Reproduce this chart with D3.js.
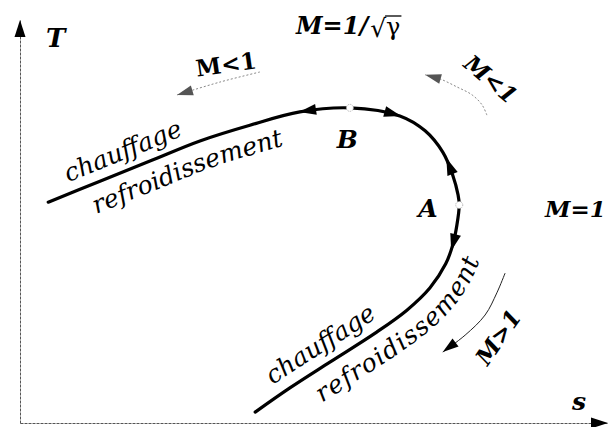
<!DOCTYPE html>
<html>
<head>
<meta charset="utf-8">
<script src="https://cdn.jsdelivr.net/npm/d3@7"></script>
<style>
  body { margin: 0; background: #fff; }
  svg { display: block; }
</style>
</head>
<body>
<div id="chart"></div>
<script>
const FRAME_WIDTH = 614;
const FRAME_HEIGHT = 427;

// Rayleigh line, T against s (arbitrary units)
const CURVE_S = [0.48, 1.36, 2.21, 3.06, 3.91, 4.76, 5.61, 6.46, 6.89, 7.19, 7.36, 7.45, 7.47, 7.43, 7.36, 7.24, 6.97, 6.58, 6.04, 5.27, 4.59, 4.0];
const CURVE_T = [5.48, 6.0, 6.5, 7.0, 7.39, 7.72, 7.82, 7.62, 7.25, 6.72, 6.15, 5.66, 5.41, 4.91, 4.42, 3.95, 3.35, 2.8, 2.23, 1.51, 0.87, 0.27];

// the two marked points on the curve
const POINT_NAMES = ["B", "A"];
const POINT_S = [5.61, 7.47];
const POINT_T = [7.82, 5.41];

// black arrowheads on the curve (+1 = along the drawing direction, -1 = back)
const ARROW_S = [4.88, 6.36, 7.5, 7.48];
const ARROW_T = [7.77, 7.72, 6.5, 4.42];
const ARROW_DIR = [-1, 1, -1, 1];

// thin Mach arrows next to the curve
const SUB_LEFT_S = [4.08, 3.4, 2.67];
const SUB_LEFT_T = [8.71, 8.46, 8.14];
const SUB_RIGHT_S = [7.94, 7.86, 7.69, 7.43, 7.14, 6.89];
const SUB_RIGHT_T = [7.64, 7.89, 8.14, 8.34, 8.54, 8.64];
const SUP_S = [8.25, 8.11, 7.91, 7.57, 7.19];
const SUP_T = [3.72, 3.23, 2.68, 2.18, 1.76];

const X_SCALE = d3.scaleLinear().domain([0, 10]).range([20, 608]);
const Y_SCALE = d3.scaleLinear().domain([0, 10]).range([423, 20]);

const SERIF = "'DejaVu Serif', 'Liberation Serif', serif";

const FRAME = d3
  .select("#chart")
  .append("svg")
  .attr("width", FRAME_WIDTH)
  .attr("height", FRAME_HEIGHT);

// arrowhead with its tip at (x, y), pointing at angle a
function arrowHead(g, x, y, a, len, half, fill) {
  const cx = Math.cos(a), cy = Math.sin(a);
  const bx = x - len * cx, by = y - len * cy;
  g.append("path")
    .attr("d", `M${x},${y}L${bx - half * cy},${by + half * cx}L${bx + half * cy},${by - half * cx}Z`)
    .attr("fill", fill);
}

function boldLabel(x, y, txt, size) {
  return FRAME.append("text")
    .attr("x", x).attr("y", y)
    .style("font-family", SERIF).style("font-weight", "bold").style("font-style", "italic")
    .style("font-size", size + "px")
    .text(txt);
}

// axes: no ticks, only the lines
const xAxis = FRAME.append("g")
  .attr("transform", `translate(0,${Y_SCALE(0)})`)
  .call(d3.axisBottom(X_SCALE).tickValues([]).tickSizeOuter(0));
const yAxis = FRAME.append("g")
  .attr("transform", `translate(${X_SCALE(0)},0)`)
  .call(d3.axisLeft(Y_SCALE).tickValues([]).tickSizeOuter(0));
[xAxis, yAxis].forEach((ax) =>
  ax.select(".domain").attr("stroke", "#555").attr("stroke-width", 1).attr("stroke-dasharray", "3,1")
);
arrowHead(FRAME, X_SCALE(10), Y_SCALE(0), 0, 17, 5.5, "#000");
arrowHead(FRAME, X_SCALE(0), Y_SCALE(10), -Math.PI / 2, 17, 5.5, "#000");

boldLabel(46, 47, "T", 26);
boldLabel(572, 410, "s", 25);

// main curve
const curveLine = d3
  .line()
  .x((i) => X_SCALE(CURVE_S[i]))
  .y((i) => Y_SCALE(CURVE_T[i]))
  .curve(d3.curveCatmullRom.alpha(0.5));

const curve = FRAME.append("path")
  .attr("d", curveLine(d3.range(CURVE_S.length)))
  .attr("fill", "none")
  .attr("stroke", "#000")
  .attr("stroke-width", 3.2)
  .attr("stroke-linecap", "round");

const NODE = curve.node();
const TOTAL = NODE.getTotalLength();

function nearestLength(px, py) {
  let best = 0, bestD = Infinity;
  for (let L = 0; L <= TOTAL; L += 0.5) {
    const p = NODE.getPointAtLength(L);
    const d = (p.x - px) ** 2 + (p.y - py) ** 2;
    if (d < bestD) { bestD = d; best = L; }
  }
  return best;
}

function tangentAt(L) {
  const p0 = NODE.getPointAtLength(Math.max(0, L - 1.5));
  const p1 = NODE.getPointAtLength(Math.min(TOTAL, L + 1.5));
  return Math.atan2(p1.y - p0.y, p1.x - p0.x);
}

// path parallel to the curve, from L0 to L1, shifted by off to the left of travel
function offsetPath(L0, L1, off) {
  const pts = [];
  const step = L1 > L0 ? 2 : -2;
  for (let L = L0; step > 0 ? L <= L1 : L >= L1; L += step) {
    const p = NODE.getPointAtLength(L);
    let a = tangentAt(L);
    if (step < 0) a += Math.PI;
    pts.push([p.x + off * Math.sin(a), p.y - off * Math.cos(a)]);
  }
  return d3.line().curve(d3.curveBasis)(pts);
}

// arrowheads on the curve
const arrowG = FRAME.append("g");
ARROW_S.forEach((s, i) => {
  const L = nearestLength(X_SCALE(s), Y_SCALE(ARROW_T[i]));
  let a = tangentAt(L);
  if (ARROW_DIR[i] < 0) a += Math.PI;
  const p = NODE.getPointAtLength(L);
  arrowHead(arrowG, p.x + 8 * Math.cos(a), p.y + 8 * Math.sin(a), a, 17, 5.5, "#000");
});

// marked points
FRAME.selectAll("circle.pt")
  .data(POINT_NAMES)
  .enter()
  .append("circle")
  .attr("class", "pt")
  .attr("cx", (d, i) => X_SCALE(POINT_S[i]))
  .attr("cy", (d, i) => Y_SCALE(POINT_T[i]))
  .attr("r", 3.5)
  .attr("fill", "#fff")
  .attr("stroke", "#aaa")
  .attr("stroke-width", 1)
  .attr("stroke-dasharray", "1,1");

boldLabel(X_SCALE(POINT_S[0]) - 13, Y_SCALE(POINT_T[0]) + 40, POINT_NAMES[0], 25);
boldLabel(X_SCALE(POINT_S[1]) - 41, Y_SCALE(POINT_T[1]) + 12, POINT_NAMES[1], 25);

// text along the two branches
const L_B = nearestLength(X_SCALE(POINT_S[0]), Y_SCALE(POINT_T[0]));
const L_A = nearestLength(X_SCALE(POINT_S[1]), Y_SCALE(POINT_T[1]));

const defs = FRAME.append("defs");
const BRANCH_TEXT = [
  { id: "up-heat", d: offsetPath(0, L_B, 11), start: 26, text: "chauffage", spacing: 0 },
  { id: "up-cool", d: offsetPath(0, L_B, -29), start: 40, text: "refroidissement", spacing: 0 },
  { id: "lo-heat", d: offsetPath(TOTAL, L_A, 12), start: 30, text: "chauffage", spacing: 0 },
  { id: "lo-cool", d: offsetPath(TOTAL, L_A - 10, -30), start: 60, text: "refroidissement", spacing: 1.2 },
];
BRANCH_TEXT.forEach((b) => {
  defs.append("path").attr("id", b.id).attr("d", b.d);
  FRAME.append("text")
    .style("font-family", SERIF).style("font-style", "italic").style("font-size", "25px")
    .style("letter-spacing", b.spacing + "px")
    .append("textPath")
    .attr("href", `#${b.id}`)
    .attr("startOffset", b.start)
    .text(b.text);
});

// Mach arrows
function machArrow(S, T, stroke, dash, headFill) {
  const pts = S.map((s, i) => [X_SCALE(s), Y_SCALE(T[i])]);
  const n = pts.length;
  FRAME.append("path")
    .attr("d", d3.line().curve(d3.curveCatmullRom)(pts))
    .attr("fill", "none")
    .attr("stroke", stroke)
    .attr("stroke-width", 1)
    .attr("stroke-dasharray", dash);
  const a = Math.atan2(pts[n - 1][1] - pts[n - 2][1], pts[n - 1][0] - pts[n - 2][0]);
  arrowHead(FRAME, pts[n - 1][0], pts[n - 1][1], a, 16, 5, headFill);
}
machArrow(SUB_LEFT_S, SUB_LEFT_T, "#888", "2,2", "#555");
machArrow(SUB_RIGHT_S, SUB_RIGHT_T, "#888", "2,2", "#555");
machArrow(SUP_S, SUP_T, "#222", null, "#000");

function rotatedLabel(x, y, angle, txt, italic) {
  FRAME.append("text")
    .attr("transform", `translate(${x},${y}) rotate(${angle})`)
    .attr("text-anchor", "middle")
    .attr("dominant-baseline", "central")
    .style("font-family", SERIF).style("font-weight", "bold")
    .style("font-style", italic ? "italic" : "normal")
    .style("font-size", "23px")
    .text(txt);
}
rotatedLabel(226, 64, -8, "M<1", false);
rotatedLabel(491, 79, 40, "M<1", true);
rotatedLabel(498, 337, -55, "M>1", true);

boldLabel(545, 217, "M=1", 23);

// M = 1/sqrt(gamma)
const top0 = boldLabel(296, 34, "M=1/", 24);
const xRad = 296 + top0.node().getComputedTextLength() + 2;
const rad = FRAME.append("text")
  .attr("x", xRad).attr("y", 37)
  .style("font-family", SERIF).style("font-size", "25px")
  .text("\u221A");
const xG = xRad + rad.node().getComputedTextLength();
const gam = FRAME.append("text")
  .attr("x", xG).attr("y", 35)
  .style("font-family", SERIF).style("font-size", "24px")
  .text("\u03B3");
const wG = gam.node().getComputedTextLength();
const radBox = rad.node().getBBox();
FRAME.append("line")
  .attr("x1", xG - 1).attr("x2", xG + wG + 1)
  .attr("y1", radBox.y + 2).attr("y2", radBox.y + 2)
  .attr("stroke", "#000").attr("stroke-width", 1.3);
</script>
</body>
</html>
